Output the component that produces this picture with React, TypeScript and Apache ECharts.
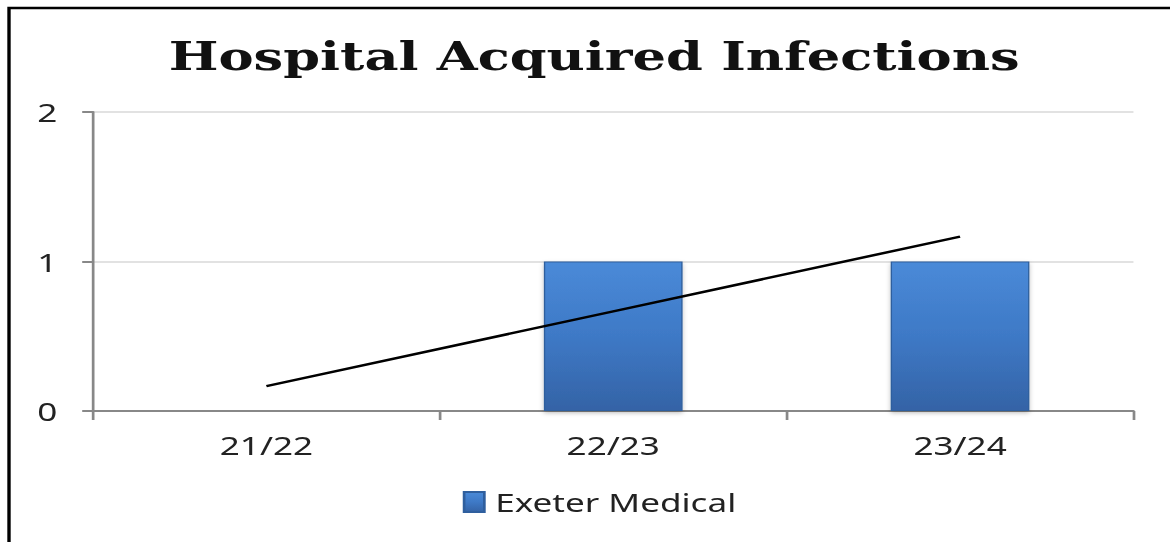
import React, { useEffect, useRef } from "react";
import * as echarts from "echarts";

const categories = ["21/22", "22/23", "23/24"];
const exeterMedical = [0, 1, 1];
const yTicks = { min: 0, max: 2, interval: 1 };

// The reference image is stretched horizontally; render narrower and scale.
const STRETCH = 1.35;
const PAGE_W = 1170;
const PAGE_H = 542;

// Linear trend line (least squares) of the bar series
function linearTrend(values: number[]): number[] {
  const n = values.length;
  const xs = values.map((_, i) => i);
  const mx = xs.reduce((a, b) => a + b, 0) / n;
  const my = values.reduce((a, b) => a + b, 0) / n;
  let num = 0;
  let den = 0;
  xs.forEach((x, i) => {
    num += (x - mx) * (values[i] - my);
    den += (x - mx) * (x - mx);
  });
  const slope = num / den;
  const icpt = my - slope * mx;
  return xs.map((x) => icpt + slope * x);
}

export default function App() {
  const ref = useRef<HTMLDivElement>(null);
  useEffect(() => {
    if (!ref.current) return;
    const chart = echarts.init(ref.current, undefined, { renderer: "svg" });
    const barGrad = new echarts.graphic.LinearGradient(0, 0, 0, 1, [
      { offset: 0, color: "#4a8ad8" },
      { offset: 0.5, color: "#3e79c6" },
      { offset: 1, color: "#3463a6" },
    ]);
    const s = STRETCH;
    chart.setOption({
      animation: false,
      backgroundColor: "#ffffff",
      title: {
        text: "Hospital Acquired Infections",
        left: 162 / s,
        top: 32,
        textStyle: {
          fontFamily: "DejaVu Serif",
          fontWeight: "bold",
          fontSize: 39,
          color: "#111111",
        },
      },
      grid: { left: 93 / s, right: 37 / s, top: 112, bottom: 131 },
      legend: {
        data: [{ name: "Exeter Medical", icon: "rect" }],
        bottom: 22,
        left: 456 / s,
        itemWidth: 15,
        itemHeight: 20,
        itemGap: 10,
        textStyle: { fontFamily: "Noto Sans", fontSize: 26, color: "#222222", padding: [0, 0, 0, 3] },
      },
      xAxis: {
        type: "category",
        data: categories,
        boundaryGap: true,
        axisLine: { lineStyle: { color: "#888888", width: 2 } },
        axisTick: { show: true, alignWithLabel: false, length: 9, lineStyle: { color: "#888888", width: 2 } },
        axisLabel: { margin: 21, fontFamily: "Noto Sans", fontSize: 26, color: "#222222" },
      },
      yAxis: {
        type: "value",
        min: yTicks.min,
        max: yTicks.max,
        interval: yTicks.interval,
        axisLine: { show: true, lineStyle: { color: "#888888", width: 2 } },
        axisTick: { show: true, length: 8, lineStyle: { color: "#888888", width: 2 } },
        splitLine: { lineStyle: { color: "#d9d9d9", width: 1.5 } },
        axisLabel: { margin: 26.5, fontFamily: "Noto Sans", fontSize: 26, color: "#222222" },
      },
      series: [
        {
          name: "Exeter Medical",
          type: "bar",
          data: exeterMedical,
          barWidth: "40%",
          itemStyle: {
            color: barGrad,
            borderColor: "#2f5f9e",
            borderWidth: 1,
            shadowColor: "rgba(0,0,0,0.25)",
            shadowBlur: 4,
            shadowOffsetY: 2,
          },
        },
        {
          name: "Trend",
          type: "line",
          data: linearTrend(exeterMedical),
          symbol: "none",
          lineStyle: { color: "#000000", width: 2.5 },
          z: 5,
        },
      ],
      graphic: [
        {
          type: "rect",
          shape: { x: 9 / s, y: 8, width: 1300, height: 700 },
          style: { fill: "none", stroke: "#000000", lineWidth: 2.5 },
          silent: true,
        },
      ],
    });
    return () => chart.dispose();
  }, []);
  return (
    <div
      style={{
        position: "fixed",
        left: 0,
        top: 0,
        width: PAGE_W,
        height: PAGE_H,
        overflow: "hidden",
        background: "#ffffff",
      }}
    >
      <div
        ref={ref}
        style={{
          width: PAGE_W / STRETCH,
          height: PAGE_H,
          transform: `scaleX(${STRETCH})`,
          transformOrigin: "0 0",
        }}
      />
    </div>
  );
}
